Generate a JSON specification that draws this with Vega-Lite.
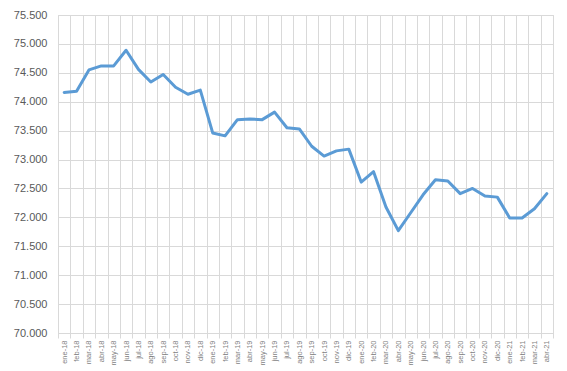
{
  "$schema": "https://vega.github.io/schema/vega-lite/v6.json",
  "autosize": {"type": "none"},
  "padding": {"left": 58, "top": 15, "right": 14, "bottom": 38},
  "width": 495,
  "height": 318,
  "background": "white",
  "config": {
    "view": {"stroke": "#d9d9d9", "strokeWidth": 1},
    "font": "Liberation Sans"
  },
  "data": {
    "values": [
      {"mes": "ene-18", "valor": 74.16},
      {"mes": "feb-18", "valor": 74.18},
      {"mes": "mar-18", "valor": 74.55},
      {"mes": "abr-18", "valor": 74.62},
      {"mes": "may-18", "valor": 74.62},
      {"mes": "jun-18", "valor": 74.89},
      {"mes": "jul-18", "valor": 74.56},
      {"mes": "ago-18", "valor": 74.34},
      {"mes": "sep-18", "valor": 74.47},
      {"mes": "oct-18", "valor": 74.25},
      {"mes": "nov-18", "valor": 74.13},
      {"mes": "dic-18", "valor": 74.20},
      {"mes": "ene-19", "valor": 73.46},
      {"mes": "feb-19", "valor": 73.41},
      {"mes": "mar-19", "valor": 73.69},
      {"mes": "abr-19", "valor": 73.70},
      {"mes": "may-19", "valor": 73.69},
      {"mes": "jun-19", "valor": 73.82},
      {"mes": "jul-19", "valor": 73.55},
      {"mes": "ago-19", "valor": 73.53},
      {"mes": "sep-19", "valor": 73.23},
      {"mes": "oct-19", "valor": 73.06},
      {"mes": "nov-19", "valor": 73.15},
      {"mes": "dic-19", "valor": 73.18},
      {"mes": "ene-20", "valor": 72.61},
      {"mes": "feb-20", "valor": 72.79},
      {"mes": "mar-20", "valor": 72.18},
      {"mes": "abr-20", "valor": 71.77},
      {"mes": "may-20", "valor": 72.08},
      {"mes": "jun-20", "valor": 72.39},
      {"mes": "jul-20", "valor": 72.65},
      {"mes": "ago-20", "valor": 72.63},
      {"mes": "sep-20", "valor": 72.41},
      {"mes": "oct-20", "valor": 72.50},
      {"mes": "nov-20", "valor": 72.37},
      {"mes": "dic-20", "valor": 72.35},
      {"mes": "ene-21", "valor": 71.99},
      {"mes": "feb-21", "valor": 71.99},
      {"mes": "mar-21", "valor": 72.15},
      {"mes": "abr-21", "valor": 72.41}
    ]
  },
  "mark": {"type": "line", "color": "#5B9BD5", "strokeWidth": 3, "strokeJoin": "round", "strokeCap": "round"},
  "encoding": {
    "x": {
      "field": "mes",
      "type": "ordinal",
      "sort": null,
      "bandPosition": 0.5,
      "scale": {"type": "band", "paddingInner": 0, "paddingOuter": 0},
      "axis": {
        "title": null,
        "tickBand": "extent",
        "labelAngle": -90,
        "labelFontSize": 7.5,
        "labelColor": "#7f7f7f",
        "labelPadding": 2,
        "tickSize": 5,
        "tickColor": "#d9d9d9",
        "domainColor": "#d9d9d9",
        "grid": true,
        "gridColor": "#d9d9d9"
      }
    },
    "y": {
      "field": "valor",
      "type": "quantitative",
      "scale": {"domain": [70, 75.5], "nice": false, "zero": false},
      "axis": {
        "title": null,
        "values": [70, 70.5, 71, 71.5, 72, 72.5, 73, 73.5, 74, 74.5, 75, 75.5],
        "labelExpr": "format(datum.value, '.3f')",
        "ticks": false,
        "domain": false,
        "labelPadding": 11,
        "labelFontSize": 11,
        "labelColor": "#595959",
        "gridColor": "#d9d9d9"
      }
    }
  }
}
